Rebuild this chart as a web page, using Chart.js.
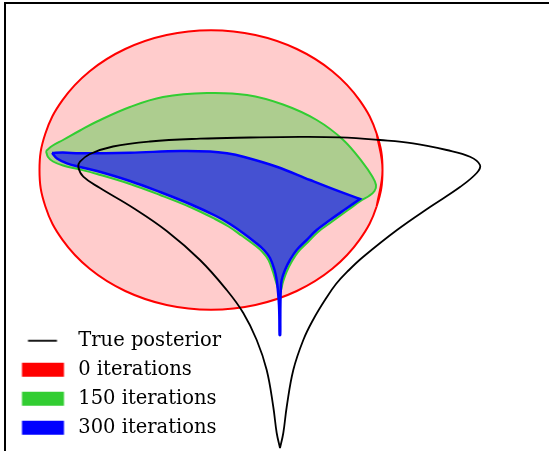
<!DOCTYPE html>
<html>
<head>
<meta charset="utf-8">
<script src="https://cdn.jsdelivr.net/npm/chart.js@4.4.1/dist/chart.umd.min.js"></script>
<style>
  html, body { margin: 0; padding: 0; background: #fff; overflow: hidden; }
  #wrap { width: 549px; height: 452px; position: relative; }
</style>
</head>
<body>
<div id="wrap"><canvas id="myChart"></canvas></div>
<script>
// legend text, in legend order
const seriesLabels = ['True posterior', '0 iterations', '150 iterations', '300 iterations'];

// contour outlines, [x, y] in plot units
const truePosterior = [
  [6.9,-27.8],[6.57,-26.3],[6.23,-23.7],[5.57,-20.0],[4.57,-17.0],[3.23,-14.3],[1.57,-12.0],
  [-1.1,-9.0],[-4.43,-6.1],[-7.77,-3.8],[-11.1,-1.8],[-12.77,-0.67],[-13.27,0.3],[-13.1,0.83],
  [-12.1,1.6],[-9.8,2.35],[-6.1,2.85],[-1.1,3.13],[3.9,3.25],[8.9,3.32],[12.9,3.27],[16.9,3.0],
  [20.2,2.67],[23.57,2.0],[25.9,1.33],[26.9,0.5],[26.57,-0.3],[24.9,-1.7],[21.9,-3.7],[18.6,-6.0],
  [15.2,-8.7],[13.8,-10.0],[12.5,-11.4],[11.4,-13.0],[10.2,-15.0],[9.23,-17.0],[8.23,-20.0],
  [7.57,-23.7],[7.23,-26.3],[6.9,-27.8]
];
const iter0 = [
  [16.57,-3.62],[17.15,0],[16.57,3.62],[14.85,6.99],[12.13,9.88],[8.58,12.1],[4.44,13.5],[0,13.97],
  [-4.44,13.5],[-8.58,12.1],[-12.13,9.88],[-14.85,6.99],[-16.57,3.62],[-17.15,0],[-16.57,-3.62],
  [-14.85,-6.99],[-12.13,-9.88],[-8.58,-12.1],[-4.44,-13.5],[0,-13.97],[4.44,-13.5],[8.58,-12.1],
  [12.13,-9.88],[14.85,-6.99],[16.57,-3.62],[17.15,0],[16.57,3.62]
];
const iter150 = [
  [-16.5,1.9],[-16.5,1.9],[-15.9,2.4],[-14.8,3.0],[-13.1,3.95],[-11.4,4.85],[-8.1,6.3],[-4.8,7.3],
  [-0.4,7.7],[3.6,7.5],[7.2,6.55],[10.57,5.0],[13.23,3.0],[15.23,0.67],[16.1,-0.6],[16.5,-1.5],
  [16.35,-2.1],[15.8,-2.6],[15.1,-3.0],[13.7,-4.0],[12.05,-5.2],[10.7,-6.2],[9.7,-7.2],[8.7,-8.2],
  [8.05,-9.2],[7.55,-10.2],[7.2,-11.2],[6.9,-12.2],[6.5,-11.2],[6.2,-10.2],[5.75,-9.0],[5.15,-8.2],
  [4.35,-7.5],[3.05,-6.55],[1.75,-5.65],[0.4,-4.9],[-2.1,-3.7],[-5.1,-2.5],[-8.1,-1.4],[-11.4,-0.4],
  [-13.1,0.05],[-14.8,0.45],[-15.8,0.85],[-16.3,1.3],[-16.5,1.9]
];
const iter300 = [
  [-15.9,1.7],[-15.9,1.7],[-14.8,1.75],[-13.1,1.67],[-8.1,1.73],[-3.1,1.9],[-0.1,1.85],[1.6,1.67],
  [3.23,1.33],[6.57,0.33],[9.9,-1.0],[12.9,-2.17],[14.9,-2.9],[14.9,-2.9],[13.57,-3.83],[11.9,-5.0],
  [10.57,-6.0],[9.57,-7.0],[8.57,-8.0],[7.9,-9.0],[7.4,-10.0],[7.07,-11.0],[6.98,-12.0],[6.94,-13.5],
  [6.93,-15.0],[6.92,-16.5],[6.86,-16.5],[6.84,-15.0],[6.8,-13.5],[6.7,-12.2],[6.57,-11.0],[6.35,-10.0],
  [5.9,-8.8],[5.3,-8.0],[4.5,-7.3],[3.2,-6.3],[1.9,-5.4],[0.5,-4.6],[-2.1,-3.4],[-5.1,-2.2],[-8.1,-1.1],
  [-11.4,-0.1],[-13.1,0.3],[-14.4,0.67],[-15.4,1.15],[-15.9,1.7]
];

const toPoints = arr => arr.map(p => ({ x: p[0], y: p[1] }));

// little legend icons: a short line for the posterior, solid patches for the rest
function legendIcon(kind, color) {
  const c = document.createElement('canvas');
  c.width = 54; c.height = 16;
  const g = c.getContext('2d');
  if (kind === 'line') {
    g.strokeStyle = color; g.lineWidth = 1.8;
    g.beginPath(); g.moveTo(13.5, 8); g.lineTo(42.5, 8); g.stroke();
  } else {
    g.fillStyle = color;
    g.fillRect(7.5, 1, 42, 14);
  }
  return c;
}
const legendIcons = [
  legendIcon('line', '#000000'),
  legendIcon('rect', '#ff0000'),
  legendIcon('rect', '#32cd32'),
  legendIcon('rect', '#0000ff')
];

const ctx = document.getElementById('myChart');

new Chart(ctx, {
  type: 'scatter',
  data: {
    datasets: [
      {
        label: seriesLabels[0],
        data: toPoints(truePosterior),
        showLine: true, fill: false, tension: 0.4,
        borderColor: '#000000', borderWidth: 1.8, pointRadius: 0,
        order: 0
      },
      {
        label: seriesLabels[1],
        data: toPoints(iter0),
        showLine: true, fill: 'shape', tension: 0.4,
        borderColor: '#ff0000', backgroundColor: 'rgba(255,0,0,0.2)', borderWidth: 2, pointRadius: 0,
        order: 3
      },
      {
        label: seriesLabels[2],
        data: toPoints(iter150),
        showLine: true, fill: 'shape', tension: 0.38,
        borderColor: '#32cd32', backgroundColor: 'rgba(50,205,50,0.4)', borderWidth: 2, pointRadius: 0,
        order: 2
      },
      {
        label: seriesLabels[3],
        data: toPoints(iter300),
        showLine: true, fill: 'shape', tension: 0.38,
        borderColor: '#0000ff', backgroundColor: 'rgba(0,0,255,0.6)', borderWidth: 2.5, pointRadius: 0,
        order: 1
      }
    ]
  },
  options: {
    responsive: true,
    maintainAspectRatio: false,
    animation: false,
    events: [],
    layout: { autoPadding: false, padding: { left: 5, top: 3, right: 0, bottom: 2 } },
    plugins: {
      tooltip: { enabled: false },
      legend: {
        position: 'chartArea',
        align: 'end',
        labels: {
          usePointStyle: true,
          pointStyleWidth: 54,
          boxHeight: 16,
          padding: 9.5,
          color: '#000',
          font: { family: 'DejaVu Serif', size: 19.5 },
          generateLabels: chart => chart.data.datasets.map((ds, i) => ({
            text: ds.label,
            datasetIndex: i,
            hidden: false,
            lineWidth: 0,
            fillStyle: 'rgba(0,0,0,0)',
            strokeStyle: 'rgba(0,0,0,0)',
            fontColor: '#000',
            pointStyle: legendIcons[i]
          }))
        }
      }
    },
    scales: {
      x: {
        type: 'linear', position: 'top',
        min: -20.6, max: 33.8,
        ticks: { display: false },
        grid: { display: false, drawTicks: false },
        border: { display: true, color: '#000', width: 2 }
      },
      y: {
        type: 'linear', position: 'left',
        min: -28.0, max: 16.7,
        ticks: { display: false },
        grid: { display: false, drawTicks: false },
        border: { display: true, color: '#000', width: 2 }
      }
    }
  }
});
</script>
</body>
</html>
